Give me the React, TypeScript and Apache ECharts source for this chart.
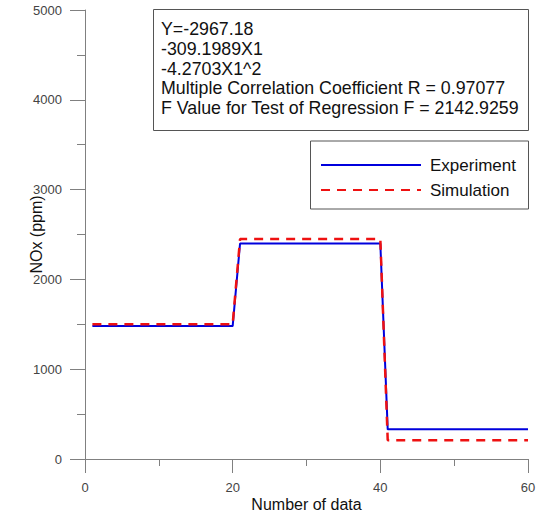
import React, { useEffect, useRef } from "react";
import * as echarts from "echarts";

const dataIndex = [1, 20, 21, 40, 41, 60];
const experiment = [1480, 1480, 2400, 2400, 330, 330];
const simulation = [1500, 1500, 2450, 2450, 210, 210];
const seriesNames = ["Experiment", "Simulation"];
const regressionText = [
  "Y=-2967.18",
  "-309.1989X1",
  "-4.2703X1^2",
  "Multiple Correlation Coefficient R = 0.97077",
  "F Value for Test of Regression F = 2142.9259",
];

const FONT = "'Liberation Sans', Arial, sans-serif";

export default function App() {
  const ref = useRef<HTMLDivElement>(null);
  useEffect(() => {
    document.body.style.margin = "0";
    const chart = echarts.init(ref.current!, null, { renderer: "svg" });
    const axisColor = "#808080";
    chart.setOption({
      animation: false,
      textStyle: { fontFamily: FONT },
      grid: { left: 85, right: 10, top: 10, bottom: 57, outerBoundsMode: "none", containLabel: false },
      xAxis: {
        type: "value",
        min: 0,
        max: 60,
        interval: 20,
        name: "Number of data",
        nameLocation: "middle",
        nameGap: 37,
        nameMoveOverlap: false,
        nameTextStyle: { fontSize: 16, color: "#111", fontFamily: FONT },
        axisLine: { onZero: false, lineStyle: { color: axisColor, width: 1 } },
        axisTick: { length: 14, inside: false, lineStyle: { color: axisColor } },
        minorTick: { show: true, splitNumber: 2, length: 7, lineStyle: { color: axisColor } },
        splitLine: { show: false },
        axisLabel: { margin: 22, fontSize: 13, color: "#444", fontFamily: FONT, formatter: (v: number) => String(v) },
      },
      yAxis: {
        type: "value",
        min: 0,
        max: 5000,
        interval: 1000,
        name: "NOx (ppm)",
        nameLocation: "middle",
        nameGap: 41,
        nameMoveOverlap: false,
        nameTextStyle: { fontSize: 16, color: "#111", fontFamily: FONT },
        axisLine: { show: true, onZero: false, lineStyle: { color: axisColor, width: 1 } },
        axisTick: { show: true, length: 15, lineStyle: { color: axisColor } },
        minorTick: { show: true, splitNumber: 2, length: 8, lineStyle: { color: axisColor } },
        splitLine: { show: false },
        axisLabel: { margin: 23, fontSize: 13, color: "#444", fontFamily: FONT, formatter: (v: number) => String(v) },
      },
      legend: {
        orient: "vertical",
        left: 320,
        top: 155,
        padding: 0,
        itemWidth: 100,
        itemHeight: 14,
        itemGap: 5,
        itemStyle: { opacity: 0, borderWidth: 0 },
        textStyle: { fontSize: 17, color: "#111", lineHeight: 20, padding: [0, 0, 0, 4], fontFamily: FONT },
        data: seriesNames,
      },
      graphic: [
        {
          type: "rect",
          shape: { x: 153.5, y: 9.5, width: 375, height: 121 },
          style: { fill: "#fff", stroke: "#555", lineWidth: 1 },
          z: 10,
        },
        {
          type: "text",
          x: 161,
          y: 19,
          style: {
            text: regressionText.join("\n"),
            fontSize: 17.8,
            lineHeight: 19.8,
            fill: "#111",
            fontFamily: FONT,
          },
          z: 11,
        },
        {
          type: "rect",
          shape: { x: 310.5, y: 141, width: 218, height: 68 },
          style: { fill: "none", stroke: "#555", lineWidth: 1 },
          z: 10,
        },
      ],
      series: [
        {
          name: seriesNames[0],
          type: "line",
          data: dataIndex.map((x, i) => [x, experiment[i]]),
          symbol: "none",
          lineStyle: { color: "#0000dd", width: 2 },
          itemStyle: { color: "#0000dd" },
        },
        {
          name: seriesNames[1],
          type: "line",
          data: dataIndex.map((x, i) => [x, simulation[i]]),
          symbol: "none",
          lineStyle: { color: "#ee1111", width: 2.5, type: [9, 7] },
          itemStyle: { color: "#ee1111" },
        },
      ],
    });
    return () => chart.dispose();
  }, []);
  return <div ref={ref} style={{ width: 538, height: 516 }} />;
}
